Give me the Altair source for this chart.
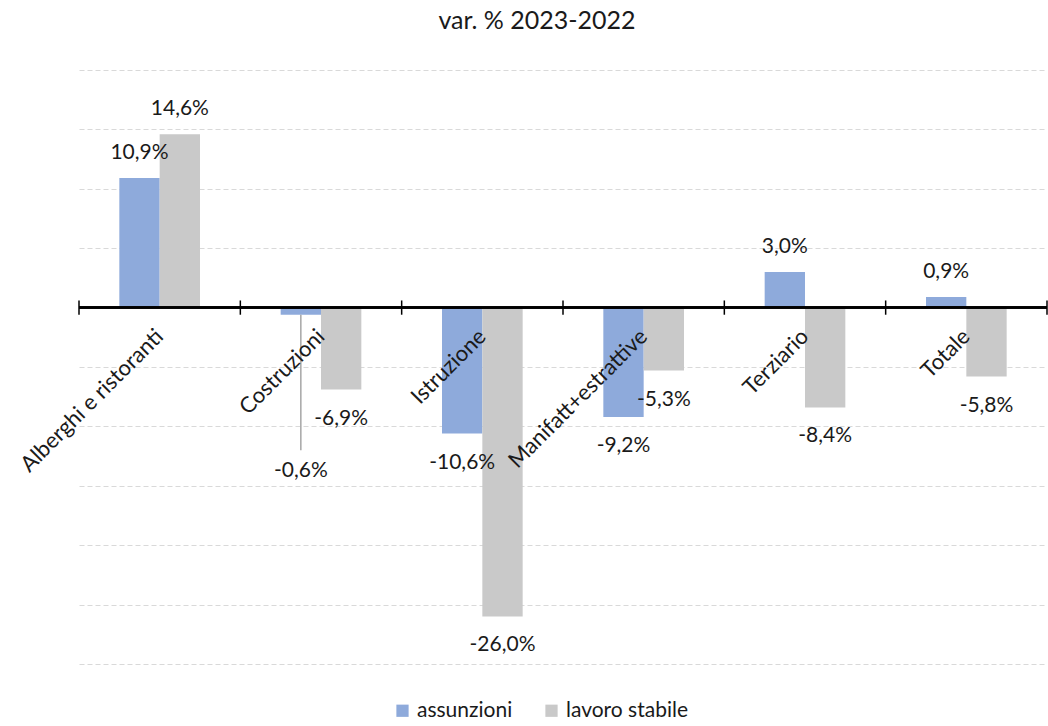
import altair as alt
import pandas as pd

# Sector breakdown, year-on-year change (%)
categories = ["Alberghi e ristoranti", "Costruzioni", "Istruzione",
              "Manifatt+estrattive", "Terziario", "Totale"]
series = ["assunzioni", "lavoro stabile"]
assunzioni = [10.9, -0.6, -10.6, -9.2, 3.0, 0.9]
lavoro_stabile = [14.6, -6.9, -26.0, -5.3, -8.4, -5.8]
colors = ["#8eaadb", "#c9c9c9"]

# One label is pulled down away from its tiny bar and tied back with a leader line
label_nudge = {("Costruzioni", "assunzioni"): -10.7}

rows = []
for name, vals in zip(series, [assunzioni, lavoro_stabile]):
    for cat, v in zip(categories, vals):
        nudge = label_nudge.get((cat, name), 0.0)
        rows.append({"category": cat, "series": name, "value": v,
                     "nudge": nudge, "anchor": v + nudge})
df = pd.DataFrame(rows)

FONT = "Lato"
TXT = "#1a1a1a"

x_enc = alt.X("category:N", sort=categories, axis=None,
              scale=alt.Scale(paddingInner=0, paddingOuter=0))
xoff_enc = alt.XOffset("series:N", sort=series,
                       scale=alt.Scale(paddingInner=0, paddingOuter=1))
y_scale = alt.Scale(domain=[-30, 20], nice=False, zero=False)

base = alt.Chart(df).transform_calculate(
    label="(datum.value < 0 ? '-' : '') + replace(format(abs(datum.value), '.1f'), '.', ',') + '%'"
)

bars = base.mark_bar().encode(
    x=x_enc,
    xOffset=xoff_enc,
    y=alt.Y("value:Q", scale=y_scale, title=None,
            axis=alt.Axis(values=list(range(-30, 25, 5)), labels=False, ticks=False,
                          domain=False, grid=True, gridColor="#d9d9d9",
                          gridDash=[5, 3], gridWidth=1)),
    color=alt.Color("series:N", sort=series,
                    scale=alt.Scale(domain=series, range=colors),
                    legend=alt.Legend(title=None, orient="none", direction="horizontal",
                                      legendX=313, legendY=630,
                                      symbolType="square", symbolSize=150,
                                      symbolStrokeWidth=0, labelFont=FONT,
                                      labelFontSize=21, labelColor=TXT,
                                      columnPadding=28)),
)

pos_labels = base.transform_filter("datum.value >= 0").mark_text(
    font=FONT, fontSize=21, color=TXT, baseline="middle", dy=-25
).encode(x=x_enc, xOffset=xoff_enc, y=alt.Y("anchor:Q", scale=y_scale), text="label:N")

neg_labels = base.transform_filter("datum.value < 0").mark_text(
    font=FONT, fontSize=21, color=TXT, baseline="middle", dy=29
).encode(x=x_enc, xOffset=xoff_enc, y=alt.Y("anchor:Q", scale=y_scale), text="label:N")

leaders = base.transform_filter("datum.nudge != 0").transform_calculate(
    lead_end="datum.anchor - 0.7"
).mark_rule(color="#a6a6a6", strokeWidth=1.5).encode(
    x=x_enc, xOffset=xoff_enc,
    y=alt.Y("value:Q", scale=y_scale), y2="lead_end:Q",
)

zero_line = base.mark_rule(color="#000000", strokeWidth=1.5).encode(y=alt.datum(0))

cat_rows = base.transform_filter(alt.datum.series == series[0])

ticks_start = cat_rows.mark_rule(color="#000000", strokeWidth=1.5).encode(
    x=alt.X("category:N", sort=categories, axis=None, bandPosition=0,
            scale=alt.Scale(paddingInner=0, paddingOuter=0)),
    y=alt.datum(-0.6), y2=alt.datum(0.6),
)
ticks_end = cat_rows.transform_filter(alt.datum.category == categories[-1]).mark_rule(
    color="#000000", strokeWidth=1.5
).encode(
    x=alt.X("category:N", sort=categories, axis=None, bandPosition=1,
            scale=alt.Scale(paddingInner=0, paddingOuter=0)),
    y=alt.datum(-0.6), y2=alt.datum(0.6),
)

cat_labels = cat_rows.mark_text(
    font=FONT, fontSize=22, color=TXT, angle=315, align="right",
    baseline="middle", dx=-18, dy=18
).encode(x=x_enc, y=alt.datum(0), text="category:N")

chart = alt.layer(
    bars, zero_line, ticks_start, ticks_end, leaders, pos_labels, neg_labels, cat_labels
).properties(
    width=968, height=594,
    title=alt.TitleParams("var. % 2023-2022", font=FONT, fontSize=25, fontWeight="normal",
                          color=TXT, anchor="middle", dx=-26, offset=36),
    autosize=alt.AutoSizeParams(type="none"),
    padding={"left": 79, "right": 1, "top": 70, "bottom": 62},
    background="white",
).configure_view(strokeWidth=0, stroke="transparent")

chart.save("out.html", embed_options={"renderer": "svg", "actions": False})
